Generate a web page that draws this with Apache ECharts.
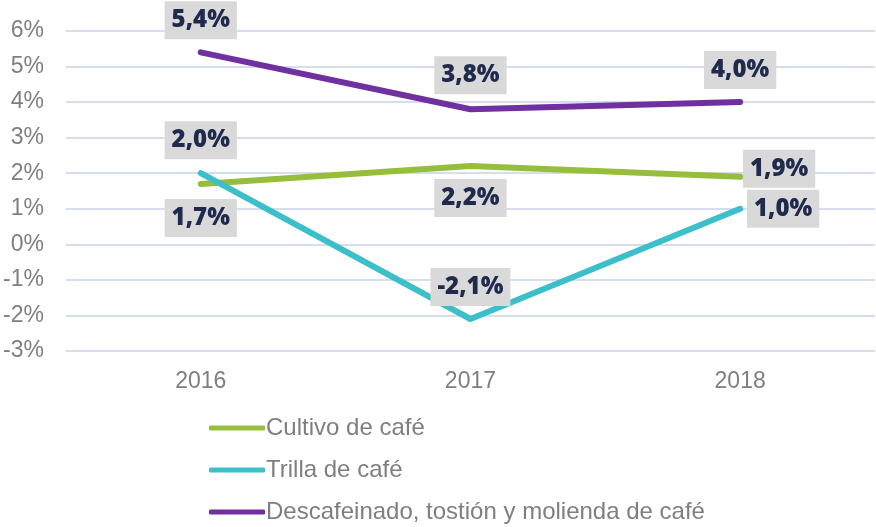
<!DOCTYPE html>
<html>
<head>
<meta charset="utf-8">
<script src="https://cdn.jsdelivr.net/npm/echarts@6/dist/echarts.min.js"></script>
<style>
  html, body { margin: 0; padding: 0; background: #fff; }
  #chart { width: 876px; height: 527px; }
</style>
</head>
<body>
<div id="chart"></div>
<script>
// datos
var years = ['2016', '2017', '2018'];
var seriesNames = ['Cultivo de café', 'Trilla de café', 'Descafeinado, tostión y molienda de café'];
var cultivo = [1.7, 2.2, 1.9];
var trilla = [2.0, -2.1, 1.0];
var descafeinado = [5.4, 3.8, 4.0];

var colors = ['#96bd3c', '#3dbfca', '#7030a0'];

// desplazamiento de las etiquetas respecto a cada punto
var labelOffsets = [
    [[0, 34], [0, 32], [39, -8]],
    [[0, -33], [0, -32], [43, 0]],
    [[0, -32], [0, -34], [0, -32]]
];

var chart = echarts.init(document.getElementById('chart'));

function fmt(v) {
    return v.toFixed(1).replace('.', ',') + '%';
}

function makeSeries(name, values, color, offsets) {
    return {
        name: name,
        type: 'line',
        symbol: 'circle',
        symbolSize: 1,
        z: 2,
        itemStyle: { color: color },
        lineStyle: { color: color, width: 6, cap: 'round', join: 'round' },
        data: values.map(function (v, i) {
            return {
                value: v,
                label: { offset: offsets[i] }
            };
        }),
        label: {
            show: true,
            position: 'inside',
            formatter: function (p) { return fmt(p.value); },
            color: '#1f2a4d',
            fontFamily: 'Open Sans',
            fontWeight: 800,
            fontSize: 24,
            lineHeight: 24,
            backgroundColor: '#d9d9d9',
            padding: [7, 7]
        }
    };
}

var option = {
    backgroundColor: '#ffffff',
    animation: false,
    color: colors,
    grid: {
        left: 65,
        right: 1,
        top: 31,
        bottom: 176
    },
    legend: {
        orient: 'vertical',
        left: 204,
        top: 411,
        height: 200,
        icon: 'roundRect',
        itemWidth: 56,
        itemHeight: 5,
        itemGap: 18,
        data: seriesNames,
        textStyle: {
            color: '#7f7f7f',
            fontFamily: 'Liberation Sans',
            fontSize: 24,
            lineHeight: 23,
            padding: [0, 0, 0, -4]
        }
    },
    xAxis: {
        type: 'category',
        data: years,
        axisLine: { show: false },
        axisTick: { show: false },
        axisLabel: {
            color: '#7f7f7f',
            fontFamily: 'Liberation Sans',
            fontSize: 23,
            margin: 19
        }
    },
    yAxis: {
        type: 'value',
        min: -3,
        max: 6,
        interval: 1,
        axisLine: { show: false },
        axisTick: { show: false },
        axisLabel: {
            color: '#7f7f7f',
            fontFamily: 'Liberation Sans',
            fontSize: 23,
            margin: 22,
            formatter: '{value}%'
        },
        splitLine: {
            lineStyle: { color: '#d6ddef', width: 2 }
        }
    },
    series: [
        makeSeries(seriesNames[0], cultivo, colors[0], labelOffsets[0]),
        makeSeries(seriesNames[1], trilla, colors[1], labelOffsets[1]),
        makeSeries(seriesNames[2], descafeinado, colors[2], labelOffsets[2])
    ]
};

chart.setOption(option);
window.addEventListener('resize', function () {
    chart.resize();
});
</script>
</body>
</html>
